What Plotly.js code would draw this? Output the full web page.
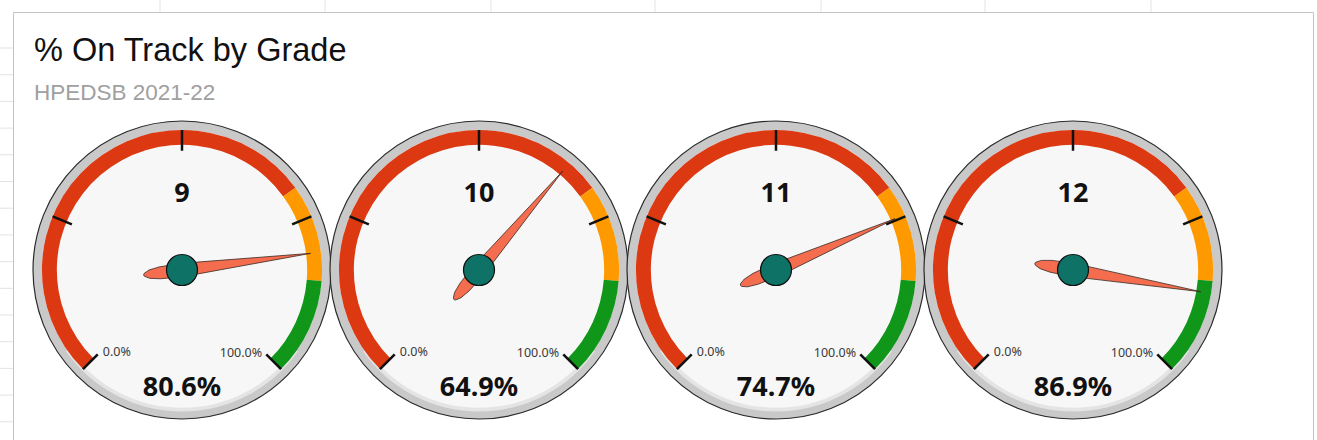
<!DOCTYPE html>
<html>
<head>
<meta charset="utf-8">
<script src="https://cdn.plot.ly/plotly-3.0.1.min.js"></script>
<style>
  html, body { margin: 0; padding: 0; background: #ffffff; }
  #chart { width: 1317px; height: 440px; }
</style>
</head>
<body>
<div id="chart"></div>
<script>
// ---- data ----
const grades = ['9', '10', '11', '12'];
const onTrack = [80.6, 64.9, 74.7, 86.9];
const bandFrom = [0, 70, 85];
const bandTo = [70, 85, 100];
const bandColors = ['#dc3912', '#ff9900', '#109618'];
const majorTicks = [0, 25, 50, 75, 100];
const gaugeMin = 0;
const gaugeMax = 100;

// ---- layout geometry ----
const W = 1317, H = 440;
const centersX = [182, 479, 776, 1073];
const centerY = 270;
const R = 149;
const sweep = 270;

function toTheta(v) { return -sweep / 2 + (v - gaugeMin) / (gaugeMax - gaugeMin) * sweep; }

const traces = [];
const layout = {
  width: W, height: H,
  margin: { l: 0, r: 0, t: 0, b: 0 },
  paper_bgcolor: 'rgba(0,0,0,0)',
  showlegend: false,
  hovermode: false,
  font: { family: 'Liberation Sans, Arial, sans-serif' },
  title: {
    text: '% On Track by Grade',
    x: 34 / W, xanchor: 'left', xref: 'paper',
    y: 1 - 50 / H, yanchor: 'middle', yref: 'container',
    font: { size: 32.5, color: '#111111', family: 'Liberation Sans, Arial, sans-serif' }
  },
  annotations: [{
    text: 'HPEDSB 2021-22', xref: 'paper', yref: 'paper',
    x: 32 / W, y: 1 - 92 / H, xanchor: 'left', yanchor: 'middle', showarrow: false,
    font: { size: 22.5, color: '#a0a0a0', family: 'Liberation Sans, Arial, sans-serif' }
  }],
  shapes: []
};

// spreadsheet gridlines and chart frame
const vGrid = [160, 325, 491, 655, 821, 985, 1151];
vGrid.forEach(x => layout.shapes.push({ type: 'line', xref: 'paper', yref: 'paper', layer: 'below',
  x0: x / W, x1: x / W, y0: 1, y1: 1 - 12 / H, line: { color: '#e3e3e3', width: 1 } }));
for (let y = 48; y < H; y += 26.7) {
  layout.shapes.push({ type: 'line', xref: 'paper', yref: 'paper', layer: 'below',
    x0: 0, x1: 13 / W, y0: 1 - y / H, y1: 1 - y / H, line: { color: '#e3e3e3', width: 1 } });
}
layout.shapes.push({ type: 'rect', xref: 'paper', yref: 'paper', layer: 'below',
  x0: 13.5 / W, x1: 1313.5 / W, y0: -0.05, y1: 1 - 12.5 / H,
  fillcolor: '#ffffff', line: { color: '#c4c4c4', width: 1 } });

grades.forEach((g, i) => {
  const key = 'polar' + (i === 0 ? '' : (i + 1));
  const cx = centersX[i];
  layout[key] = {
    domain: { x: [(cx - R) / W, (cx + R) / W], y: [1 - (centerY + R) / H, 1 - (centerY - R) / H] },
    bgcolor: '#c9c9c9',
    radialaxis: { visible: false, range: [0, 1] },
    angularaxis: { visible: true, rotation: 90, direction: 'clockwise', showgrid: false,
      showticklabels: false, ticks: '', showline: true, linecolor: '#2a2a2a', linewidth: 1.2 }
  };
  const sub = key;
  // face
  traces.push({ type: 'barpolar', subplot: sub, r: [0.94], theta: [0], width: [360], base: 0,
    marker: { color: '#f7f7f7', line: { width: 0 } } });
  // subtle lower shading of the rim
  traces.push({ type: 'barpolar', subplot: sub, r: [0.025], theta: [180], width: [110], base: 0.925,
    marker: { color: '#e4e4e4', line: { width: 0 } } });
  // colour bands
  traces.push({ type: 'barpolar', subplot: sub,
    base: 0.84,
    r: bandFrom.map(() => 0.10),
    theta: bandFrom.map((f, k) => (toTheta(f) + toTheta(bandTo[k])) / 2),
    width: bandFrom.map((f, k) => toTheta(bandTo[k]) - toTheta(f)),
    marker: { color: bandColors, line: { width: 0 } } });
  // tick marks
  const tr = [], tt = [];
  majorTicks.forEach(t => { tr.push(0.94, 0.80, null); tt.push(toTheta(t), toTheta(t), null); });
  traces.push({ type: 'scatterpolar', subplot: sub, mode: 'lines', r: tr, theta: tt,
    line: { color: '#111111', width: 2.5 }, connectgaps: false });
  // needle
  const tv = toTheta(onTrack[i]);
  const needle = [[0.87, 0], [0, 0.045], [-0.15, 0.04], [-0.22, 0.028], [-0.255, 0.01], [-0.26, 0],
                  [-0.255, -0.01], [-0.22, -0.028], [-0.15, -0.04], [0, -0.045], [0.87, 0]];
  traces.push({ type: 'scatterpolar', subplot: sub, mode: 'lines', fill: 'toself',
    r: needle.map(p => Math.hypot(p[0], p[1])),
    theta: needle.map(p => tv + Math.atan2(p[1], p[0]) * 180 / Math.PI),
    fillcolor: '#f46d4e', line: { color: '#3a2a25', width: 0.8 } });
  // hub
  traces.push({ type: 'scatterpolar', subplot: sub, mode: 'markers', r: [0], theta: [0],
    marker: { size: 31, color: '#0e7366', line: { color: '#111111', width: 1.2 } } });
  // texts
  traces.push({ type: 'scatterpolar', subplot: sub, mode: 'text',
    r: [0.50, 0.80], theta: [0, 180],
    text: ['<b>' + g + '</b>', '<b>' + onTrack[i].toFixed(1) + '%</b>'],
    textposition: 'middle center',
    textfont: { family: 'Noto Sans, sans-serif', size: [27, 27], color: '#111111' } });
  traces.push({ type: 'scatterpolar', subplot: sub, mode: 'text',
    r: [0.71, 0.69], theta: [-142, 145],
    text: [gaugeMin.toFixed(1) + '%', gaugeMax.toFixed(1) + '%'],
    textposition: 'middle center',
    textfont: { family: 'Noto Sans, sans-serif', size: 12.5, color: '#3a3a3a' } });
});

Plotly.newPlot('chart', traces, layout, { displayModeBar: false, staticPlot: true });
</script>
</body>
</html>
